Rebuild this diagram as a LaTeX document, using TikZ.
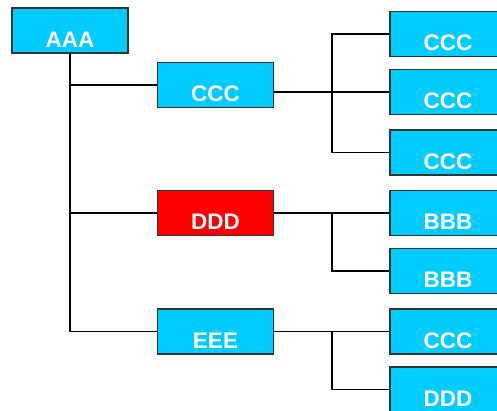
\documentclass[tikz,border=0pt]{standalone}
\usepackage{fontspec}
\setmainfont{Liberation Sans}
\definecolor{boxblue}{HTML}{00CCFF}
\definecolor{boxred}{HTML}{FF0000}
\definecolor{boxline}{HTML}{333333}
\begin{document}
\begin{tikzpicture}[x=1pt,y=-1pt,
  item/.style={rectangle,draw=boxline,line width=1.2pt,fill=boxblue,text=white,
    font=\fontsize{22.5}{22.5}\selectfont\bfseries,inner sep=0pt,
    minimum width=116pt,text height=39pt,text depth=6pt},
  link/.style={line width=1.8pt,black}]
\useasboundingbox (0,0) rectangle (497,410);
\clip (0,0) rectangle (497,410);

\node[item] (aaa) at (70,30.5) {AAA};
\node[item] (ccc) at (215.5,85) {CCC};
\node[item,fill=boxred] (ddd) at (215.5,213) {DDD};
\node[item] (eee) at (215.5,331.5) {EEE};

\draw[link] (aaa) |- (ccc);
\draw[link] (aaa) |- (ddd);
\draw[link] (aaa) |- (eee);

\node[item] (ccc1) at (448,34) {CCC};
\node[item] (ccc2) at (448,92) {CCC};
\node[item] (ccc3) at (448,152.5) {CCC};
\coordinate (cccfork) at (332,92);
\draw[link] (ccc.east |- cccfork) -- (cccfork);
\draw[link] (cccfork) |- (ccc1);
\draw[link] (cccfork) -- (ccc2);
\draw[link] (cccfork) |- (ccc3);

\node[item] (bbb1) at (448,213) {BBB};
\node[item] (bbb2) at (448,271) {BBB};
\coordinate (dddfork) at (332,213);
\draw[link] (ddd) -- (bbb1);
\draw[link] (dddfork) |- (bbb2);

\node[item] (ccc4) at (448,331.5) {CCC};
\node[item] (ddd2) at (448,389.5) {DDD};
\coordinate (eeefork) at (332,331.5);
\draw[link] (eee) -- (ccc4);
\draw[link] (eeefork) |- (ddd2);
\end{tikzpicture}
\end{document}
